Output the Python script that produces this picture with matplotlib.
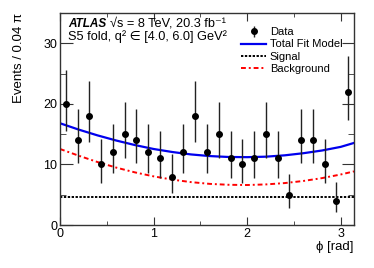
import numpy as np
import matplotlib
matplotlib.use('Agg')
import matplotlib.pyplot as plt
from matplotlib.ticker import MultipleLocator

plt.rcParams['font.family'] = ['Liberation Sans', 'DejaVu Sans']

# data: 25 bins of width 0.04 pi over [0, pi]
bin_width = 0.04 * np.pi
phi_centers = (np.arange(25) + 0.5) * bin_width
counts = [20, 14, 18, 10, 12, 15, 14, 12, 11, 8, 12, 18, 12,
          15, 11, 10, 11, 15, 11, 5, 14, 14, 10, 4, 22]
err_lo = [4.42, 3.76, 4.33, 3.10, 3.45, 3.90, 3.76, 3.45, 3.27, 2.70, 3.45, 4.33, 3.45,
          3.90, 3.27, 3.10, 3.27, 3.90, 3.27, 2.16, 3.76, 3.76, 3.10, 1.92, 4.70]
err_hi = [5.55, 5.09, 5.83, 4.26, 4.69, 5.28, 5.09, 4.69, 4.48, 3.77, 4.69, 5.83, 4.69,
          5.28, 4.48, 4.26, 4.48, 5.28, 4.48, 3.38, 5.09, 5.09, 4.26, 3.16, 5.84]

# fit curves sampled along phi
phi_curve = [0.0, 0.2, 0.4, 0.6, 0.8, 1.0, 1.2, 1.4, 1.6, 1.8, 2.0,
             2.2, 2.4, 2.6, 2.8, 3.0, np.pi]
total_fit = [16.8, 15.75, 14.8, 13.95, 13.2, 12.55, 12.05, 11.65, 11.38, 11.23, 11.2,
             11.28, 11.5, 11.85, 12.3, 12.9, 13.55]
background = [12.55, 11.44, 10.4, 9.48, 8.69, 8.03, 7.49, 7.08, 6.79, 6.64, 6.6,
              6.7, 6.92, 7.27, 7.74, 8.34, 8.85]
signal = [4.6] * len(phi_curve)

fig = plt.figure(figsize=(3.74, 2.68), dpi=100)
ax = fig.add_axes([60 / 374, 43 / 268, 294 / 374, 212 / 268])

ax.plot(phi_curve, signal, color='black', ls=(0, (1.2, 0.8)), lw=1.4, label='Signal')
ax.plot(phi_curve, background, color='red', ls=(0, (2.5, 1.5, 1, 1.5)), lw=1.4,
        label='Background')
ax.plot(phi_curve, total_fit, color='#0000ee', lw=1.6, label='Total Fit Model')
ax.errorbar(phi_centers, counts, yerr=[err_lo, err_hi], fmt='o', color='black',
            ms=4, elinewidth=1, ecolor='#222222', capsize=0, label='Data')

ax.set_xlim(0, np.pi)
ax.set_ylim(0, 35)
ax.xaxis.set_major_locator(MultipleLocator(1))
ax.xaxis.set_minor_locator(MultipleLocator(0.5))
ax.yaxis.set_major_locator(MultipleLocator(10))
ax.yaxis.set_minor_locator(MultipleLocator(5))
ax.tick_params(which='both', direction='in', top=True, right=True, labelsize=9,
               color='#333333')
ax.tick_params(axis='x', which='major', length=6, pad=2)
ax.tick_params(axis='x', which='minor', length=3)
ax.tick_params(axis='y', which='major', length=9, pad=2)
ax.tick_params(axis='y', which='minor', length=4.5)
for s in ax.spines.values():
    s.set_linewidth(1.0)
    s.set_color('#333333')

ax.set_xlabel('ϕ [rad]', loc='right', fontsize=9.5, labelpad=1)
ax.set_ylabel('Events / 0.04 π', loc='top', fontsize=9.5, labelpad=13)

ax.text(0.027, 0.935, 'ATLAS', transform=ax.transAxes, fontsize=8.5,
        fontweight='bold', fontstyle='italic')
ax.text(0.17, 0.935, '√s = 8 TeV, 20.3 fb⁻¹', transform=ax.transAxes, fontsize=9.2)
ax.text(0.027, 0.872, 'S5 fold, q² ∈ [4.0, 6.0] GeV²', transform=ax.transAxes,
        fontsize=9.2)

handles, labels = ax.get_legend_handles_labels()
order = [3, 2, 0, 1]
ax.legend([handles[i] for i in order], [labels[i] for i in order],
          loc='upper left', bbox_to_anchor=(0.6, 0.955), frameon=False,
          fontsize=8, handlelength=2.3, handletextpad=0.3, labelspacing=0.22,
          borderaxespad=0.0)

fig.savefig('out.png', dpi=100)
